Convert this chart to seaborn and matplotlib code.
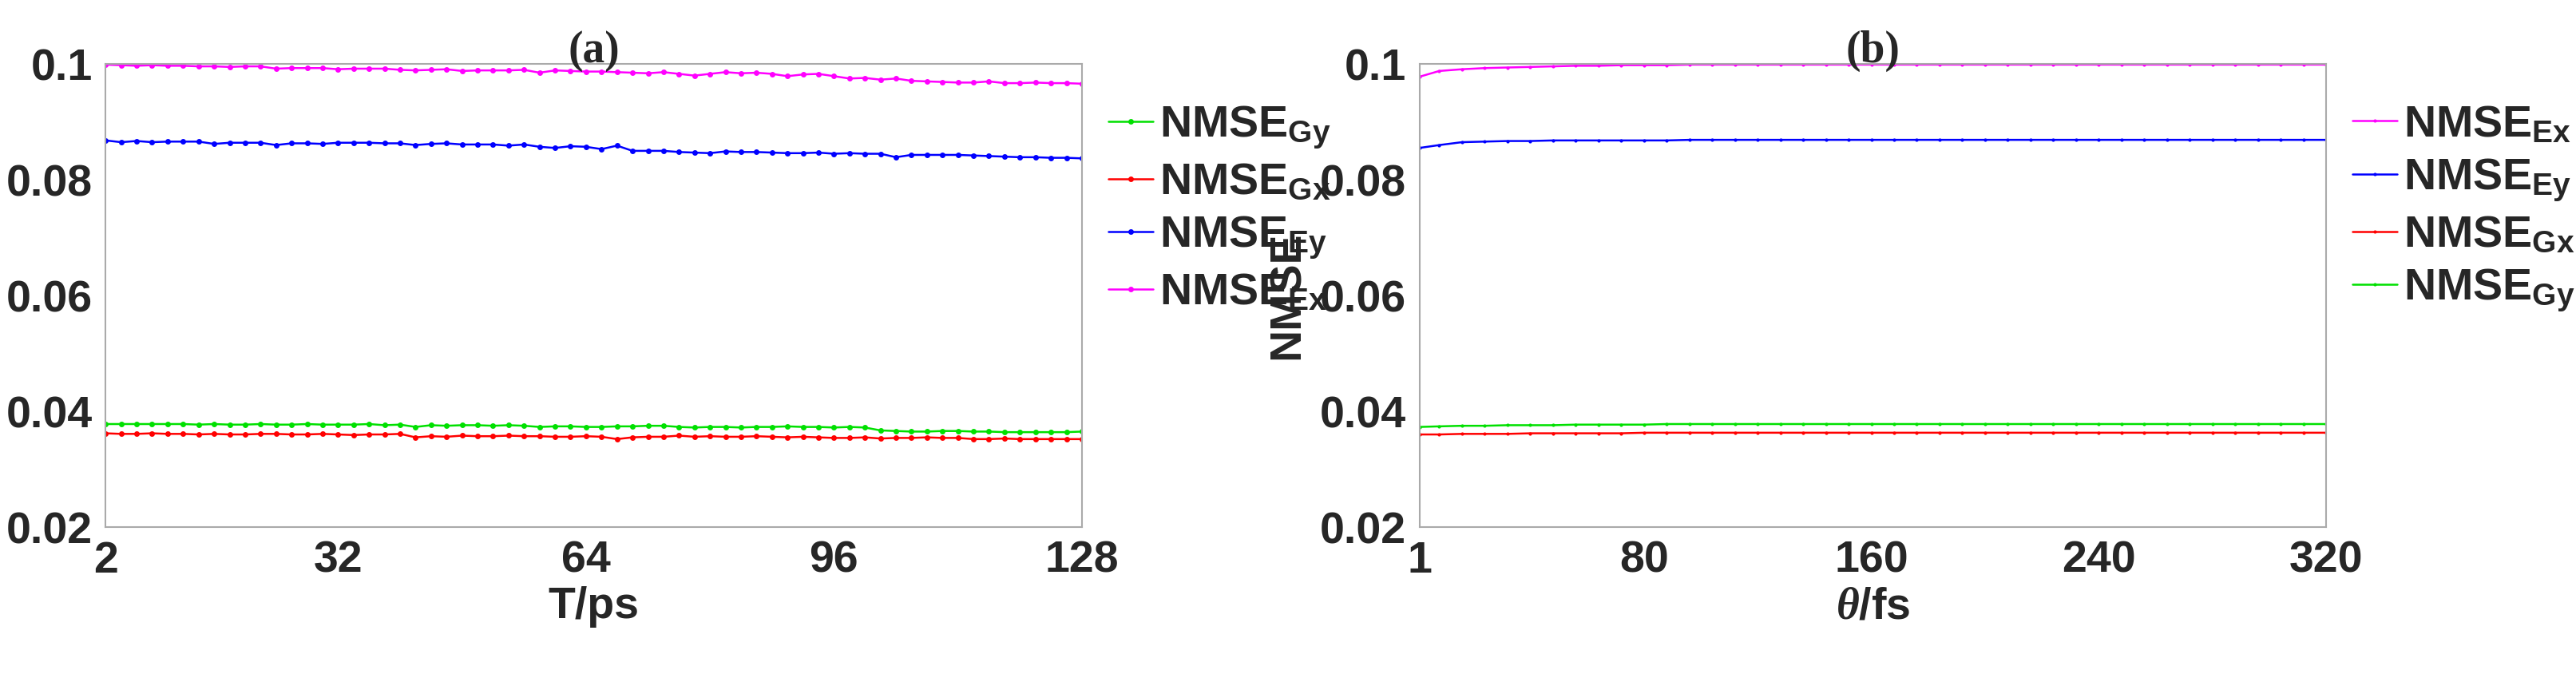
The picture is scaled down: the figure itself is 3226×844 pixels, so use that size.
import numpy as np
import pandas as pd
import matplotlib
matplotlib.use("Agg")
import matplotlib.pyplot as plt
import seaborn as sns

# -----------------------
# data: panel (a), T = 2..128 ps step 2
# -----------------------
t_ps = list(range(2, 130, 2))
a_ex = [0.0999, 0.0998, 0.0997, 0.0998, 0.0997, 0.0997, 0.0996, 0.0996, 0.0995, 0.0996,
        0.0996, 0.0992, 0.0993, 0.0993, 0.0993, 0.0991, 0.0992, 0.0992, 0.0992, 0.0990,
        0.0989, 0.0990, 0.0991, 0.0988, 0.0989, 0.0989, 0.0989, 0.0990, 0.0985, 0.0989,
        0.0988, 0.0987, 0.0987, 0.0986, 0.0985, 0.0984, 0.0986, 0.0983, 0.0980, 0.0983,
        0.0986, 0.0984, 0.0985, 0.0983, 0.0979, 0.0982, 0.0983, 0.0979, 0.0975, 0.0976,
        0.0973, 0.0975, 0.0971, 0.0970, 0.0969, 0.0968, 0.0968, 0.0970, 0.0967, 0.0967,
        0.0968, 0.0967, 0.0967, 0.0966]
a_ey = [0.0868, 0.0865, 0.0867, 0.0865, 0.0866, 0.0866, 0.0866, 0.0862, 0.0864, 0.0864,
        0.0864, 0.0860, 0.0863, 0.0863, 0.0862, 0.0864, 0.0864, 0.0864, 0.0863, 0.0863,
        0.0860, 0.0862, 0.0863, 0.0861, 0.0861, 0.0861, 0.0859, 0.0861, 0.0857, 0.0855,
        0.0858, 0.0857, 0.0853, 0.0859, 0.0850, 0.0850, 0.0850, 0.0848, 0.0847, 0.0846,
        0.0849, 0.0848, 0.0848, 0.0847, 0.0846, 0.0846, 0.0847, 0.0845, 0.0846, 0.0845,
        0.0845, 0.0839, 0.0843, 0.0843, 0.0843, 0.0843, 0.0842, 0.0841, 0.0840, 0.0839,
        0.0839, 0.0838, 0.0838, 0.0837]
a_gy = [0.0378, 0.0378, 0.0378, 0.0378, 0.0378, 0.0378, 0.0377, 0.0378, 0.0377, 0.0377,
        0.0378, 0.0377, 0.0377, 0.0378, 0.0377, 0.0377, 0.0377, 0.0378, 0.0376, 0.0377,
        0.0373, 0.0376, 0.0375, 0.0376, 0.0376, 0.0375, 0.0376, 0.0375, 0.0373, 0.0374,
        0.0374, 0.0373, 0.0373, 0.0374, 0.0374, 0.0375, 0.0375, 0.0373, 0.0372, 0.0373,
        0.0373, 0.0372, 0.0373, 0.0373, 0.0374, 0.0373, 0.0373, 0.0372, 0.0373, 0.0372,
        0.0367, 0.0366, 0.0365, 0.0365, 0.0366, 0.0366, 0.0365, 0.0365, 0.0364, 0.0364,
        0.0364, 0.0364, 0.0364, 0.0365]
a_gx = [0.0362, 0.0361, 0.0361, 0.0362, 0.0361, 0.0361, 0.0360, 0.0361, 0.0360, 0.0360,
        0.0361, 0.0361, 0.0360, 0.0360, 0.0361, 0.0360, 0.0359, 0.0360, 0.0360, 0.0361,
        0.0355, 0.0357, 0.0356, 0.0358, 0.0357, 0.0357, 0.0358, 0.0357, 0.0357, 0.0356,
        0.0356, 0.0357, 0.0356, 0.0352, 0.0355, 0.0356, 0.0356, 0.0358, 0.0356, 0.0357,
        0.0356, 0.0356, 0.0357, 0.0356, 0.0355, 0.0356, 0.0355, 0.0354, 0.0354, 0.0355,
        0.0353, 0.0354, 0.0354, 0.0355, 0.0354, 0.0354, 0.0352, 0.0352, 0.0353, 0.0352,
        0.0352, 0.0352, 0.0352, 0.0352]

# -----------------------
# data: panel (b), theta = 1..320 fs
# -----------------------
theta_fs = [1, 8, 16, 24, 32, 40, 48, 56, 64, 72, 80, 88, 96, 104, 112, 120, 128, 136, 144, 152,
            160, 168, 176, 184, 192, 200, 208, 216, 224, 232, 240, 248, 256, 264, 272, 280,
            288, 296, 304, 312, 320]
b_ex = [0.0978, 0.0988, 0.0991, 0.0993, 0.0994, 0.0995, 0.0996, 0.0997, 0.0997, 0.0998,
        0.0998, 0.0998, 0.0999, 0.0999, 0.0999, 0.0999, 0.0999, 0.0999, 0.0999, 0.0999,
        0.0999, 0.0999, 0.0999, 0.0999, 0.0999, 0.0999, 0.0999, 0.0999, 0.0999, 0.0999,
        0.0999, 0.0999, 0.0999, 0.0999, 0.0999, 0.0999, 0.0999, 0.0999, 0.0999, 0.0999,
        0.0999]
b_ey = [0.0855, 0.0860, 0.0865, 0.0866, 0.0867, 0.0867, 0.0868, 0.0868, 0.0868, 0.0868,
        0.0868, 0.0868, 0.0869, 0.0869, 0.0869, 0.0869, 0.0869, 0.0869, 0.0869, 0.0869,
        0.0869, 0.0869, 0.0869, 0.0869, 0.0869, 0.0869, 0.0869, 0.0869, 0.0869, 0.0869,
        0.0869, 0.0869, 0.0869, 0.0869, 0.0869, 0.0869, 0.0869, 0.0869, 0.0869, 0.0869,
        0.0869]
b_gy = [0.0373, 0.0374, 0.0375, 0.0375, 0.0376, 0.0376, 0.0376, 0.0377, 0.0377, 0.0377,
        0.0377, 0.0378, 0.0378, 0.0378, 0.0378, 0.0378, 0.0378, 0.0378, 0.0378, 0.0378,
        0.0378, 0.0378, 0.0378, 0.0378, 0.0378, 0.0378, 0.0378, 0.0378, 0.0378, 0.0378,
        0.0378, 0.0378, 0.0378, 0.0378, 0.0378, 0.0378, 0.0378, 0.0378, 0.0378, 0.0378,
        0.0378]
b_gx = [0.0360, 0.0360, 0.0361, 0.0361, 0.0361, 0.0362, 0.0362, 0.0362, 0.0362, 0.0362,
        0.0363, 0.0363, 0.0363, 0.0363, 0.0363, 0.0363, 0.0363, 0.0363, 0.0363, 0.0363,
        0.0363, 0.0363, 0.0363, 0.0363, 0.0363, 0.0363, 0.0363, 0.0363, 0.0363, 0.0363,
        0.0363, 0.0363, 0.0363, 0.0363, 0.0363, 0.0363, 0.0363, 0.0363, 0.0363, 0.0363,
        0.0363]

COLORS = {"Ex": "#ff00ff", "Ey": "#0000ff", "Gx": "#ff0000", "Gy": "#00e000"}

sns.set_theme(style="white")
plt.rcParams["font.family"] = ["Liberation Sans Narrow", "Liberation Sans", "DejaVu Sans"]
plt.rcParams["font.weight"] = "bold"
plt.rcParams["mathtext.fontset"] = "custom"
plt.rcParams["mathtext.bf"] = "Liberation Sans:bold"
plt.rcParams["mathtext.it"] = "Liberation Serif:italic"


def make_df(x, series):
    rows = []
    for name, vals in series.items():
        for xi, v in zip(x, vals):
            rows.append({"x": xi, "y": v, "series": name})
    return pd.DataFrame(rows)


def draw(ax, df, order, xticks, xlabel, title, ms):
    for name in order:
        sub = df[df["series"] == name]
        sns.lineplot(data=sub, x="x", y="y", ax=ax, color=COLORS[name], marker="o",
                     markersize=ms, markeredgewidth=0, linewidth=1.8,
                     label=r"$\mathbf{NMSE}_{\mathbf{" + name + "}}$")
    ax.set_xlim(xticks[0], xticks[-1])
    ax.set_ylim(0.02, 0.1)
    ax.set_xticks(xticks)
    ax.set_yticks([0.02, 0.04, 0.06, 0.08, 0.1])
    ax.set_yticklabels(["0.02", "0.04", "0.06", "0.08", "0.1"])
    ax.tick_params(labelsize=40, length=8, color="#999999", direction="in", pad=12)
    for s in ax.spines.values():
        s.set_color("#aaaaaa")
        s.set_linewidth(1.5)
    ax.set_xlabel(xlabel, fontsize=40, fontweight="bold", labelpad=4)
    ax.set_ylabel("NMSE", fontsize=40, fontweight="bold", family="Liberation Sans", labelpad=10)
    ax.set_title(title, fontsize=40, fontweight="bold", family="Liberation Serif", pad=2)
    ax.legend(loc="upper left", bbox_to_anchor=(1.0, 0.97), frameon=False,
              fontsize=40, handlelength=1.0, handletextpad=0.15, labelspacing=0.25,
              borderaxespad=0.2)


fig = plt.figure(figsize=(32.26, 8.44), dpi=100)
ax_a = fig.add_axes([0.041, 0.218, 0.379, 0.687])
ax_b = fig.add_axes([0.551, 0.218, 0.352, 0.687])

df_a = make_df(t_ps, {"Ex": a_ex, "Ey": a_ey, "Gx": a_gx, "Gy": a_gy})
df_b = make_df(theta_fs, {"Ex": b_ex, "Ey": b_ey, "Gx": b_gx, "Gy": b_gy})

draw(ax_a, df_a, ["Gy", "Gx", "Ey", "Ex"], [2, 32, 64, 96, 128], "T/ps", "(a)", 5)
draw(ax_b, df_b, ["Ex", "Ey", "Gx", "Gy"], [1, 80, 160, 240, 320],
     r"$\mathit{\theta}$/fs", "(b)", 3)

fig.savefig("out.png", dpi=100)
